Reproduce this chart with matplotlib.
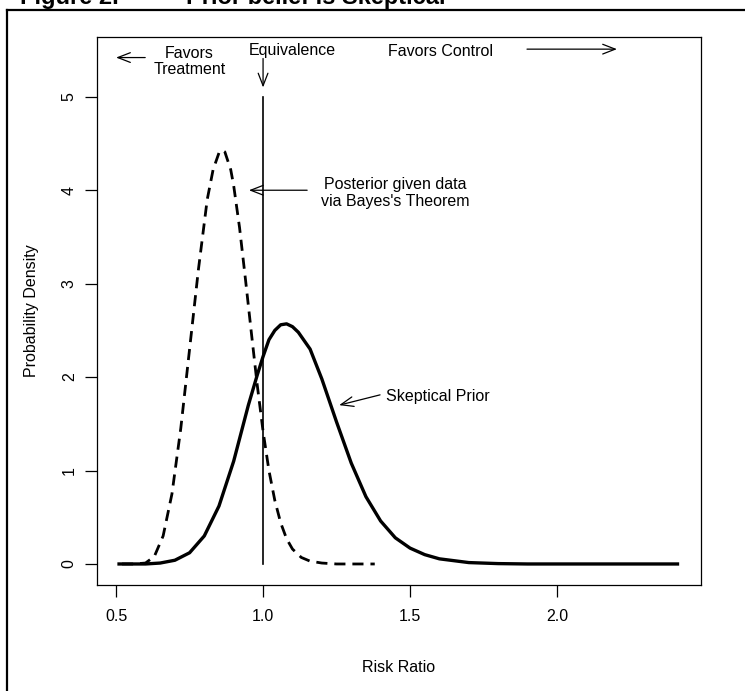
import matplotlib
matplotlib.use("Agg")
import matplotlib.pyplot as plt
from matplotlib.lines import Line2D

plt.rcParams['font.family'] = ['Liberation Sans', 'DejaVu Sans']

# skeptical prior (solid)
prior_x = [0.51, 0.60, 0.65, 0.70, 0.75, 0.80, 0.85, 0.90, 0.95, 0.98, 1.00, 1.02,
           1.04, 1.06, 1.08, 1.10, 1.12, 1.16, 1.20, 1.25, 1.30, 1.35, 1.40, 1.45,
           1.50, 1.55, 1.60, 1.70, 1.80, 1.90, 2.10, 2.41]
prior_y = [0.00, 0.00, 0.01, 0.04, 0.12, 0.30, 0.62, 1.10, 1.70, 2.02, 2.22, 2.40,
           2.50, 2.56, 2.57, 2.54, 2.48, 2.30, 1.98, 1.52, 1.08, 0.72, 0.46, 0.28,
           0.17, 0.10, 0.055, 0.015, 0.004, 0.0, 0.0, 0.0]

# posterior (dashed)
post_x = [0.52, 0.56, 0.60, 0.63, 0.66, 0.69, 0.72, 0.75, 0.78, 0.81, 0.83, 0.85,
          0.86, 0.87, 0.89, 0.90, 0.92, 0.94, 0.96, 0.98, 1.00, 1.02, 1.04, 1.06,
          1.08, 1.10, 1.13, 1.16, 1.20, 1.25, 1.30, 1.38]
post_y = [0.0, 0.0, 0.01, 0.08, 0.30, 0.75, 1.45, 2.30, 3.15, 3.90, 4.22, 4.40,
          4.43, 4.41, 4.22, 4.05, 3.60, 3.05, 2.48, 1.92, 1.42, 1.00, 0.68, 0.44,
          0.27, 0.16, 0.07, 0.03, 0.01, 0.0, 0.0, 0.0]

xticks = [0.5, 1.0, 1.5, 2.0]
xtick_labels = ['0.5', '1.0', '1.5', '2.0']
yticks = [0, 1, 2, 3, 4, 5]

W, H = 745, 691
fig = plt.figure(figsize=(W / 100, H / 100), dpi=100)
ax = fig.add_axes([97 / W, 1 - 585 / H, (701 - 97) / W, (585 - 37) / H])

ax.plot(prior_x, prior_y, color='black', lw=2.4, solid_joinstyle='round')
ax.plot(post_x, post_y, color='black', lw=2.0, ls=(0, (4, 2.5)))
ax.plot([1.0, 1.0], [0, 5.0], color='black', lw=1.2)

ax.set_xlim(0.435, 2.49)
ax.set_ylim(-0.225, 5.64)
ax.set_xticks(xticks)
ax.set_xticklabels(xtick_labels)
ax.set_yticks(yticks)
for s in ax.spines.values():
    s.set_linewidth(0.9)
ax.tick_params(direction='out', length=8.5, width=0.9, labelsize=11.5)
ax.tick_params(axis='x', pad=9)
ax.tick_params(axis='y', pad=6)
for lab in ax.get_yticklabels():
    lab.set_rotation(90)
    lab.set_va('center')

fig.text(32 / W, 1 - 311 / H, 'Probability Density', rotation=90,
         ha='center', va='center', fontsize=11.5)
fig.text(399 / W, 1 - 668 / H, 'Risk Ratio', ha='center', va='center', fontsize=11.5)

arr = dict(arrowstyle='->,head_length=0.9,head_width=0.35', color='black', lw=0.9,
           shrinkA=0, shrinkB=0)
fs = 11.5
ax.annotate('', xy=(0.50, 5.42), xytext=(0.599, 5.42), arrowprops=arr)
ax.text(0.75, 5.38, 'Favors\nTreatment', ha='center', va='center', fontsize=fs,
        linespacing=1.1)
ax.text(1.099, 5.50, 'Equivalence', ha='center', va='center', fontsize=fs)
ax.annotate('', xy=(1.0, 5.10), xytext=(1.0, 5.41), arrowprops=arr)
ax.text(1.602, 5.48, 'Favors Control', ha='center', va='center', fontsize=fs)
ax.annotate('', xy=(2.204, 5.51), xytext=(1.898, 5.51), arrowprops=arr)
ax.text(1.449, 3.97, "Posterior given data\nvia Bayes's Theorem", ha='center',
        va='center', fontsize=fs, linespacing=1.1)
ax.annotate('', xy=(0.952, 4.00), xytext=(1.150, 4.00), arrowprops=arr)
ax.text(1.418, 1.79, 'Skeptical Prior', ha='left', va='center', fontsize=fs)
ax.annotate('', xy=(1.259, 1.70), xytext=(1.398, 1.81), arrowprops=arr)

# outer frame and clipped heading
fig.add_artist(Line2D([7 / W, 1.0], [1 - 10 / H, 1 - 10 / H], color='black', lw=1.6))
fig.add_artist(Line2D([7 / W, 7 / W], [1 - 10 / H, 0.0], color='black', lw=1.6))
fig.text(20 / W, 1 - 4 / H, 'Figure 2.', ha='left', va='baseline',
         fontsize=17, fontweight='bold')
fig.text(445 / W, 1 - 4 / H, 'Prior belief is Skeptical', ha='right', va='baseline',
         fontsize=17, fontweight='bold')

fig.savefig('out.png', dpi=100)
